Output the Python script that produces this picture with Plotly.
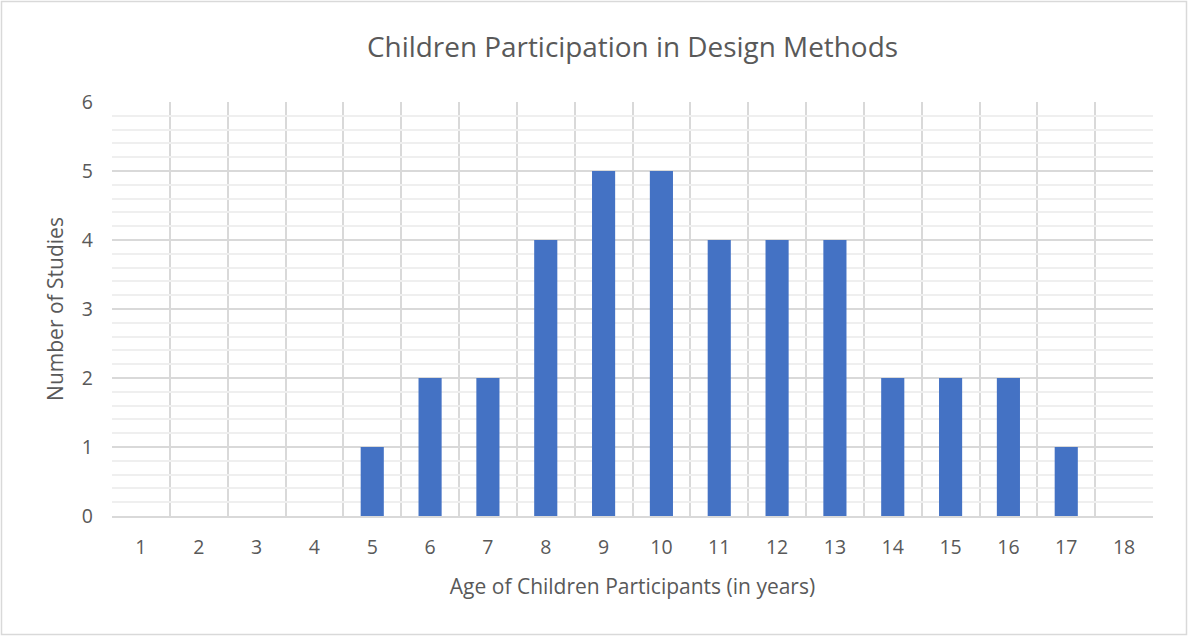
import plotly.graph_objects as go

ages = list(range(1, 19))
studies = [0, 0, 0, 0, 1, 2, 2, 4, 5, 5, 4, 4, 4, 2, 2, 2, 1, 0]
tick_labels = [str(a) for a in ages]

FONT = "Open Sans"
TXT = "#595959"

W, H = 1188, 636
L, R, T, B = 112, 35, 102, 120
PW, PH = W - L - R, H - T - B

fig = go.Figure()
fig.add_trace(go.Bar(x=ages, y=studies, marker_color="#4472C4", marker_line_width=0,
                     width=0.4))

fig.update_layout(
    width=W, height=H,
    margin=dict(l=L, r=R, t=T, b=B),
    paper_bgcolor="white", plot_bgcolor="white",
    font=dict(family=FONT, color=TXT),
    showlegend=False,
    title=dict(text="Children Participation in Design Methods", x=(L + PW / 2) / W, xanchor="center",
               y=1 - 47 / H, yanchor="middle", font=dict(size=27.9, color=TXT, family=FONT)),
    xaxis=dict(
        range=[0.5, 18.5], tickvals=ages, ticktext=tick_labels, showgrid=False,
        tickfont=dict(size=19.5, color=TXT), ticks="", ticklabelstandoff=13,
        showline=True, linecolor="#d9d9d9", linewidth=1.5,
        minor=dict(tick0=0.5, dtick=1, showgrid=True, gridcolor="#d9d9d9", gridwidth=1.5, ticks=""),
        title=dict(text="Age of Children Participants (in years)", font=dict(size=21, color=TXT), standoff=20),
        zeroline=False,
    ),
    yaxis=dict(
        range=[0, 6], dtick=1, showgrid=True, gridcolor="#d9d9d9", gridwidth=1.5,
        minor=dict(dtick=0.2, showgrid=True, gridcolor="#efefef", gridwidth=1.5),
        tickfont=dict(size=19.5, color=TXT), ticks="", zeroline=False, ticklabelstandoff=18,
        title=dict(text="Number of Studies", font=dict(size=21, color=TXT), standoff=12),
    ),
    shapes=[dict(type="rect", xref="paper", yref="paper", x0=-(L - 1.5) / PW, x1=(W - 1.5 - L) / PW,
                 y0=-(B - 1.5) / PH, y1=1 + (T - 1.5) / PH, line=dict(color="#d9d9d9", width=1.5),
                 fillcolor="rgba(0,0,0,0)", layer="below")],
)

fig.write_html("out.html", config={"displayModeBar": False},
               post_script="document.body.style.margin='0';document.body.style.overflow='hidden';")
